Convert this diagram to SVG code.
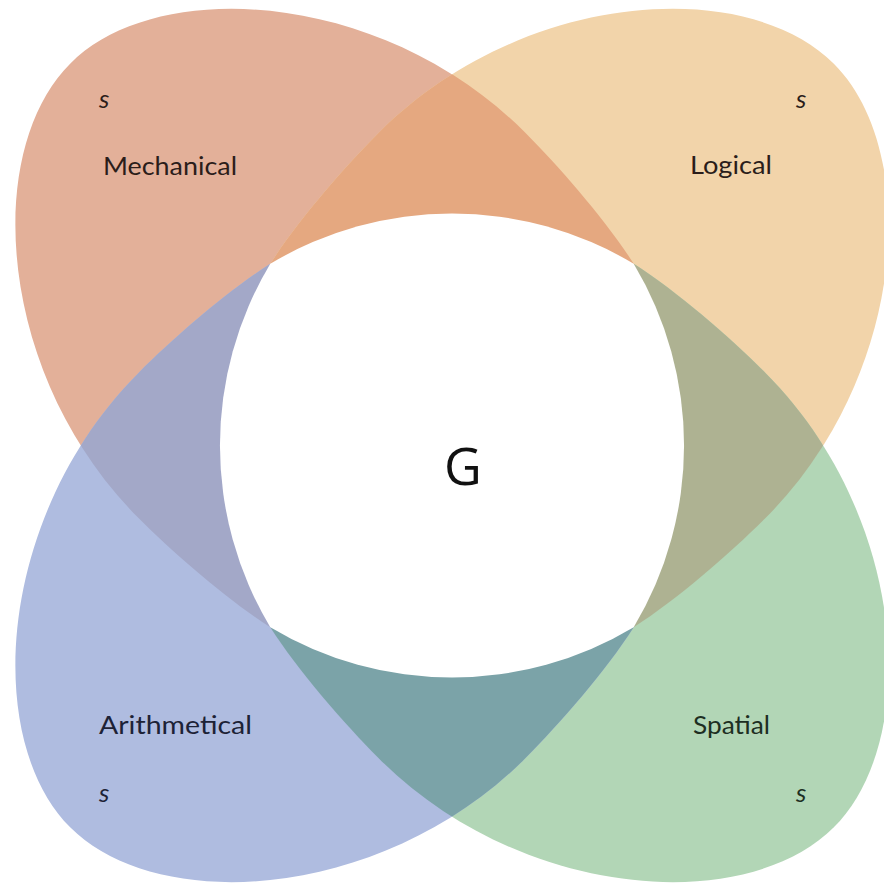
<svg xmlns="http://www.w3.org/2000/svg" xmlns:xlink="http://www.w3.org/1999/xlink" width="884" height="883" viewBox="0 0 884 883">
  <style>
    .lbl { font-family: Lato, "Liberation Sans", "DejaVu Sans", sans-serif; font-size: 25px; }
    .fac { font-family: Lato, "Liberation Sans", "DejaVu Sans", sans-serif; font-size: 26px; font-style: italic; }
    .g { font-family: "Open Sans", "DejaVu Sans", sans-serif; font-size: 52px; fill: #111111; }
  </style>
  <defs>
    <path id="lobe" d="M 0 257 C 50 268 120 273 170 273 C 370 273 540 125 540 0 C 540 -125 370 -273 170 -273 C 120 -273 50 -268 0 -257 Z"/>
    <clipPath id="clipL"><use xlink:href="#lobe" href="#lobe" transform="translate(452 445.5) rotate(315)"/></clipPath>
    <clipPath id="clipS"><use xlink:href="#lobe" href="#lobe" transform="translate(452 445.5) rotate(45)"/></clipPath>
    <clipPath id="clipA"><use xlink:href="#lobe" href="#lobe" transform="translate(452 445.5) rotate(135)"/></clipPath>
  </defs>
  <rect width="884" height="883" fill="#ffffff"/>

  <g id="mechanical">
    <use xlink:href="#lobe" href="#lobe" transform="translate(452 445.5) rotate(225)" fill="#E3B099"/>
  </g>
  <g id="logical">
    <use xlink:href="#lobe" href="#lobe" transform="translate(452 445.5) rotate(315)" fill="#F2D4AA"/>
  </g>
  <g id="spatial">
    <use xlink:href="#lobe" href="#lobe" transform="translate(452 445.5) rotate(45)" fill="#B2D6B6"/>
  </g>
  <g id="arithmetical">
    <use xlink:href="#lobe" href="#lobe" transform="translate(452 445.5) rotate(135)" fill="#AFBCE0"/>
  </g>

  <g id="overlaps">
    <g clip-path="url(#clipL)"><use xlink:href="#lobe" href="#lobe" transform="translate(452 445.5) rotate(225)" fill="#E5A880"/></g>
    <g clip-path="url(#clipS)"><use xlink:href="#lobe" href="#lobe" transform="translate(452 445.5) rotate(315)" fill="#AEB292"/></g>
    <g clip-path="url(#clipA)"><use xlink:href="#lobe" href="#lobe" transform="translate(452 445.5) rotate(45)" fill="#7BA3A8"/></g>
    <g clip-path="url(#clipA)"><use xlink:href="#lobe" href="#lobe" transform="translate(452 445.5) rotate(225)" fill="#A3A8C8"/></g>
  </g>

  <g id="g-center">
    <path d="M 270.3 263.8 A 353 353 0 0 1 633.7 263.8 A 353 353 0 0 1 633.7 627.2 A 353 353 0 0 1 270.3 627.2 A 353 353 0 0 1 270.3 263.8 Z" fill="#ffffff"/>
    <text class="g" x="463" y="485" text-anchor="middle">G</text>
  </g>

  <g id="labels">
    <text class="fac" x="99" y="108" fill="#2b1d1a">s</text>
    <text class="lbl" x="103" y="175" fill="#2b1d1a" textLength="134" lengthAdjust="spacingAndGlyphs">Mechanical</text>
    <text class="fac" x="796" y="108" fill="#2b1d1a">s</text>
    <text class="lbl" x="690" y="174" fill="#2b1d1a" textLength="82" lengthAdjust="spacingAndGlyphs">Logical</text>
    <text class="lbl" x="99" y="734" fill="#1d2236" textLength="153" lengthAdjust="spacingAndGlyphs">Arithmetical</text>
    <text class="fac" x="99" y="802" fill="#1d2236">s</text>
    <text class="lbl" x="693" y="734" fill="#1d2e22" textLength="77" lengthAdjust="spacingAndGlyphs">Spatial</text>
    <text class="fac" x="796" y="802" fill="#1d2e22">s</text>
  </g>
  <g id="connectors"/>
</svg>
